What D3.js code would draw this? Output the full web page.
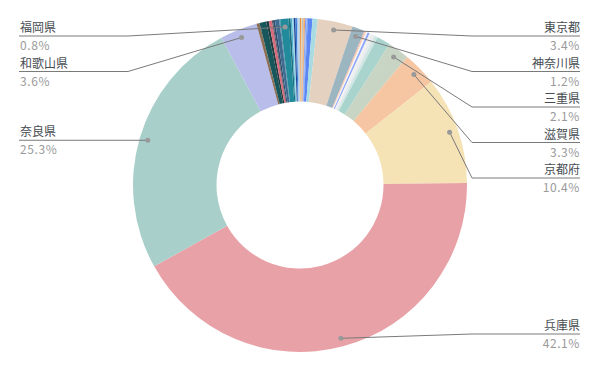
<!DOCTYPE html>
<html>
<head>
<meta charset="utf-8">
<script src="https://cdn.jsdelivr.net/npm/d3@7"></script>
<style>
  body { margin: 0; background: #fff; }
  svg { display: block; font-family: "Noto Sans CJK JP", "Noto Sans", sans-serif; }
</style>
</head>
<body>
<script>

// prefectures in order (大阪府 not included)
var prefectures = ["北海道","青森県","岩手県","宮城県","秋田県","山形県","福島県","茨城県","栃木県","群馬県","埼玉県","千葉県",
  "東京都","神奈川県","新潟県","富山県","石川県","福井県","山梨県","長野県","岐阜県","静岡県","愛知県",
  "三重県","滋賀県","京都府","兵庫県","奈良県","和歌山県",
  "鳥取県","島根県","岡山県","広島県","山口県","徳島県","香川県","愛媛県","高知県",
  "福岡県","佐賀県","長崎県","熊本県","大分県","宮崎県","鹿児島県","沖縄県"];

var shares = [0.1,0.05,0.05,0.1,0.05,0.05,0.1,0.1,0.05,0.1,0.45,0.5,
  3.4,1.2,0.1,0.1,0.15,0.2,0.05,0.2,0.3,0.3,1.3,
  2.1,3.3,10.4,42.1,25.3,3.6,
  0.3,0.65,0.25,0.3,0.1,0.2,0.4,0.05,0.05,
  0.8,0.2,0.15,0.15,0.15,0.15,0.15,0.15];

var colors = ["#e98f45","#f3d69c","#f0c070","#b9c1c9","#d7b47a","#eda35f","#f0a562","#7b9df2","#a5b9f2","#6c95f3","#5b87f6","#a9dbe2",
  "#e5d1bf","#9bb5c1","#f0b2b0","#f8d2aa","#f5f5f5","#8ea6ff","#e2e2e2","#f2f2f2","#e9ecee","#cfe6e3","#a9d4ce",
  "#c9d5c4","#f6c6a2","#f5e3b6","#e8a1a6","#a8cfca","#b9bde9",
  "#8a6e55","#17575c","#203c40","#d66c7c","#5a4a5a","#2e4f6e","#3f6d91","#4a7fa0","#2a6a80",
  "#218b9b","#1b6f80","#4fb0c8","#9ad8e8","#1d3f8e","#3c7ad8","#9fc6ea","#c0d0d8"];

var labeled = ["東京都","神奈川県","三重県","滋賀県","京都府","兵庫県","奈良県","和歌山県","福岡県"];

var w = 600, h = 371;
var cx = 300, cy = 185;
var outerR = 167, innerR = 83.5;

var svg = d3.select("body").append("svg")
  .attr("width", w)
  .attr("height", h);

var total = d3.sum(shares);
var data = prefectures.map(function(p, i) {
  return { name: p, value: shares[i], color: colors[i] };
});

var pie = d3.pie()
  .sort(null)
  .value(function(d) { return d.value; });

var arcs = pie(data);

var arc = d3.arc()
  .innerRadius(innerR)
  .outerRadius(outerR);

var g = svg.append("g")
  .attr("transform", "translate(" + cx + "," + cy + ")");

g.selectAll("path")
  .data(arcs)
  .enter()
  .append("path")
  .attr("d", arc)
  .attr("fill", function(d) { return d.data.color; });

// label layout
var dotR = outerR * 0.95;
var bendR = outerR + 5;
var labels = arcs.filter(function(d) { return labeled.indexOf(d.data.name) >= 0; })
  .map(function(d) {
    var a = (d.startAngle + d.endAngle) / 2;
    var dx = Math.sin(a) * dotR, dy = -Math.cos(a) * dotR;
    return {
      d: d,
      right: a < Math.PI,
      px: cx + dx,
      py: cy + dy,
      y: cy + dy
    };
  });

var gap = 35.5, minY = 36, maxY = 334;
[true, false].forEach(function(side) {
  var list = labels.filter(function(l) { return l.right === side; })
    .sort(function(a, b) { return a.y - b.y; });
  var prev = minY - gap;
  list.forEach(function(l) {
    l.y = Math.max(l.y, prev + gap);
    prev = l.y;
  });
  var next = maxY + gap;
  for (var i = list.length - 1; i >= 0; i--) {
    list[i].y = Math.min(list[i].y, next - gap);
    next = list[i].y;
  }
});

var lg = svg.append("g");

lg.selectAll("polyline")
  .data(labels)
  .enter()
  .append("polyline")
  .attr("points", function(l) {
    var bx = l.right ? cx + bendR : cx - bendR;
    var ex = l.right ? 580 : 19;
    return [[l.px, l.py], [bx, l.y], [ex, l.y]].join(" ");
  })
  .attr("fill", "none")
  .attr("stroke", "#7a7a7a")
  .attr("stroke-width", 1);

lg.selectAll("circle")
  .data(labels)
  .enter()
  .append("circle")
  .attr("cx", function(l) { return l.px; })
  .attr("cy", function(l) { return l.py; })
  .attr("r", 2.5)
  .attr("fill", "#999");

lg.selectAll("text.name")
  .data(labels)
  .enter()
  .append("text")
  .attr("class", "name")
  .attr("x", function(l) { return l.right ? 580 : 20; })
  .attr("y", function(l) { return l.y - 4; })
  .attr("text-anchor", function(l) { return l.right ? "end" : "start"; })
  .attr("font-size", 12)
  .attr("fill", "#464c52")
  .text(function(l) { return l.d.data.name; });

lg.selectAll("text.pct")
  .data(labels)
  .enter()
  .append("text")
  .attr("class", "pct")
  .attr("x", function(l) { return l.right ? 580 : 20; })
  .attr("y", function(l) { return l.y + 14; })
  .attr("text-anchor", function(l) { return l.right ? "end" : "start"; })
  .attr("font-size", 12)
  .attr("fill", "#9a9a9a")
  .attr("letter-spacing", 0.6)
  .text(function(l) { return (l.d.data.value / total * 100).toFixed(1) + "%"; });

</script>
</body>
</html>
